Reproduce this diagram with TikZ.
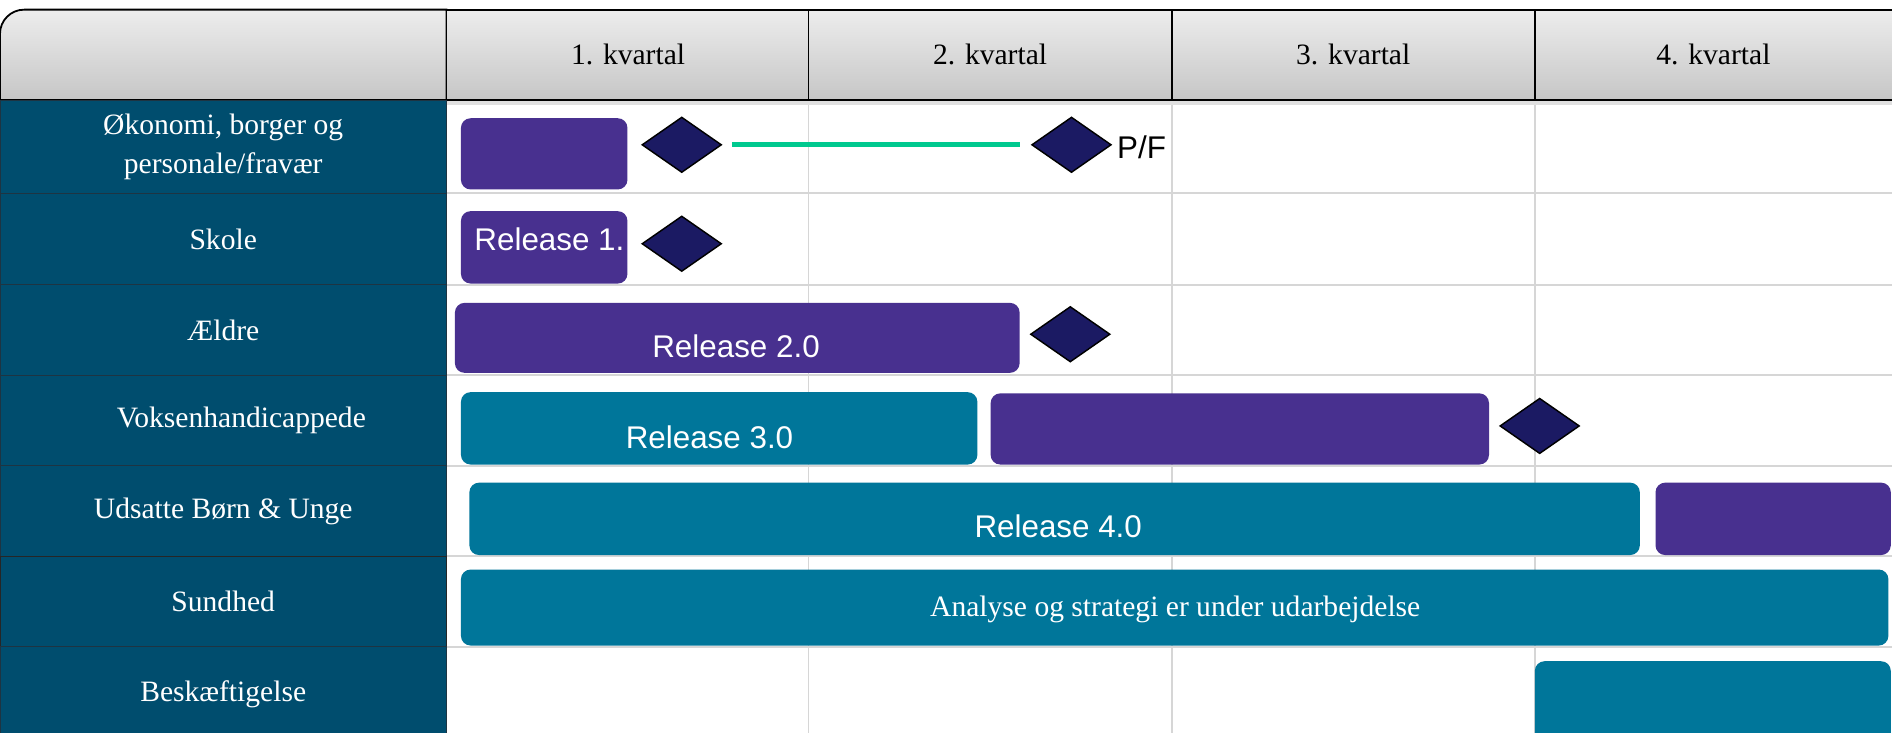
\documentclass[tikz,border=0pt]{standalone}
\usepackage{fontspec}
\setmainfont{Liberation Serif}
\newfontfamily\sansf{Liberation Sans}
\usetikzlibrary{shapes.geometric}
\definecolor{barpurple}{HTML}{48308F}
\definecolor{barteal}{HTML}{00769A}
\definecolor{navy}{HTML}{1B1A63}
\definecolor{leftcol}{HTML}{004D6E}
\definecolor{rowline}{HTML}{1E3442}
\definecolor{mgreen}{HTML}{00C98F}
\definecolor{gridc}{HTML}{D6D6D6}
\definecolor{hdrtop}{HTML}{EDEDED}
\definecolor{hdrbot}{HTML}{C6C6C6}
\begin{document}
\begin{tikzpicture}[x=1pt,y=-1pt,
  hdr/.style={draw=black, line width=1.5pt, top color=hdrtop, bottom color=hdrbot,
    minimum height=75pt, minimum width=301pt, inner sep=0pt,
    font=\fontsize{24.5}{28}\selectfont},
  rowlab/.style={fill=leftcol, draw=rowline, line width=0.8pt, minimum width=370pt,
    text=white, font=\fontsize{24.5}{32}\selectfont, align=center, inner sep=0pt},
  bar/.style={rounded corners=8pt, inner sep=0pt},
  pbar/.style={bar, fill=barpurple},
  tbar/.style={bar, fill=barteal},
  ms/.style={diamond, draw=black, line width=1.2pt, fill=navy, minimum width=66pt,
    minimum height=46pt, inner sep=0pt},
  rel/.style={text=white, font=\sansf\fontsize{26}{30}\selectfont, inner sep=0pt},
  gridln/.style={draw=gridc, line width=1.5pt}]
\path[use as bounding box, clip] (0,0) rectangle (1568,607);
\fill[white] (0,0) rectangle (1568,607);

% grid
\foreach \gx in {670,971,1272} \draw[gridln] (\gx,83) -- (\gx,620);
\foreach \gy in {160,236,311,386,461,536} \draw[gridln] (370,\gy) -- (1580,\gy);

% header shadow
\fill[black!12] (0,83) rectangle (1580,87);

% header
\path[draw=black, line width=1.5pt, top color=hdrtop, bottom color=hdrbot]
  (0,83) -- (0,28) arc[start angle=180, end angle=270, radius=20] -- (370,8) -- (370,83) -- cycle;
\node[hdr] (q1) at (520.5,45.5) {1. kvartal};
\node[hdr] (q2) at (820.5,45.5) {2. kvartal};
\node[hdr] (q3) at (1121.5,45.5) {3. kvartal};
\node[hdr, minimum width=330pt] (q4) at (1437,45.5) {};
\node[font=\fontsize{24.5}{28}\selectfont] (q4t) at (1420,45.5) {4. kvartal};

% left column
\node[rowlab, minimum height=77pt] (r1) at (185,121.5) {\raisebox{-3pt}{Økonomi, borger og}\\\raisebox{-3pt}{personale/fravær}};
\node[rowlab, minimum height=76pt] (r2) at (185,198) {Skole};
\node[rowlab, minimum height=75pt] (r3) at (185,273.5) {Ældre};
\node[rowlab, minimum height=75pt] (r4) at (185,348.5) {\hspace*{30pt}Voksenhandicappede};
\node[rowlab, minimum height=75pt] (r5) at (185,423.5) {Udsatte Børn \& Unge};
\node[rowlab, minimum height=75pt, draw=black!85] (r6) at (185,498.5) {Sundhed};
\node[rowlab, minimum height=78pt] (r7) at (185,575) {Beskæftigelse};

% bars
\node[pbar, minimum width=138pt, minimum height=59pt] (b1) at (451,127.5) {};
\node[pbar, minimum width=138pt, minimum height=60pt] (b2) at (451,205) {};
\node[pbar, minimum width=468pt, minimum height=58pt] (b3) at (611,280) {};
\node[tbar, minimum width=428pt, minimum height=60pt] (b4a) at (596,355) {};
\node[pbar, minimum width=413pt, minimum height=59pt] (b4b) at (1027.5,355.5) {};
\node[tbar, minimum width=970pt, minimum height=60pt] (b5a) at (874,430) {};
\node[pbar, minimum width=195pt, minimum height=60pt] (b5b) at (1469.5,430) {};
\node[tbar, minimum width=1183pt, minimum height=63pt] (b6) at (973.5,503.5) {};
\node[tbar, minimum width=295pt, minimum height=80pt] (b7) at (1419.5,588) {};

% bar texts
\node[rel, anchor=west] (t2) at (393,198) {Release 1.};
\node[rel] (t3) at (610,287) {Release 2.0};
\node[rel] (t4) at (588,362) {Release 3.0};
\node[rel] (t5) at (877,436) {Release 4.0};
\node[text=white, font=\fontsize{24.5}{28}\selectfont, inner sep=0pt] (t6) at (974,505)
  {Analyse og strategi er under udarbejdelse};

% milestones
\node[ms] (d1) at (565,120) {};
\node[ms] (d2) at (888,120) {};
\node[ms] (d3) at (565,202) {};
\node[ms] (d4) at (887,277) {};
\node[ms] (d5) at (1276,353) {};
\draw[mgreen, line width=4pt, shorten <=8pt, shorten >=9pt] (d1.east) -- (d2.west);
\node[anchor=west, inner sep=0pt, font=\sansf\fontsize{26}{30}\selectfont] (pf)
  at ([xshift=4pt,yshift=-2pt]d2.east) {P/F};
\end{tikzpicture}
\end{document}
